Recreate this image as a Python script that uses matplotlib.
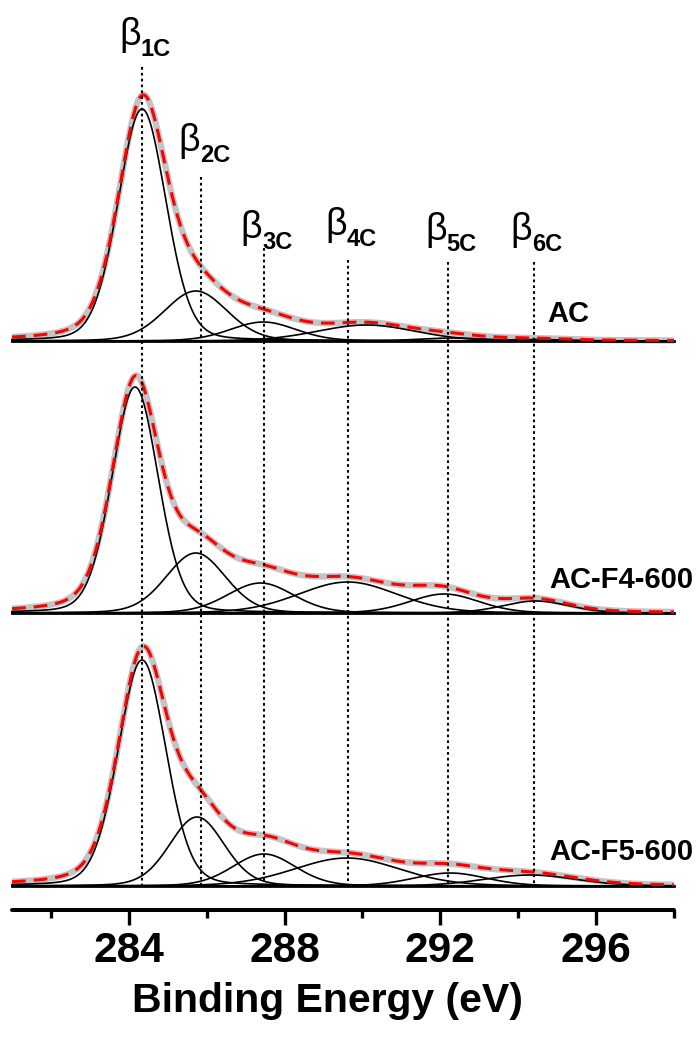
import numpy as np
import matplotlib
matplotlib.use("Agg")
import matplotlib.pyplot as plt
from matplotlib import font_manager as fm
from matplotlib.transforms import offset_copy

# ---------------- data ----------------
energy_range = (281.0, 298.0)
major_ticks = [284, 288, 292, 296]
minor_ticks = [282, 286, 290, 294, 298]
x_label = "Binding Energy (eV)"

samples = ["AC", "AC-F4-600", "AC-F5-600"]

peak_subscripts = ["1C", "2C", "3C", "4C", "5C", "6C"]
peak_markers = [284.34, 285.86, 287.47, 289.64, 292.20, 294.40]

# fitted components (centre eV, height a.u., FWHM eV)
centers_AC = [284.34, 285.72, 287.45, 290.10, 292.30, 294.40]
heights_AC = [232, 50, 19, 16, 3, 1.5]
fwhm_AC = [1.45, 1.90, 2.00, 3.00, 2.00, 2.00]

centers_F4 = [284.16, 285.72, 287.38, 289.62, 292.10, 294.45]
heights_F4 = [226, 60, 30, 31, 19, 12]
fwhm_F4 = [1.40, 1.80, 2.00, 3.00, 2.10, 2.00]

centers_F5 = [284.34, 285.75, 287.47, 289.60, 292.25, 294.30]
heights_F5 = [226, 69, 32, 28, 13, 11]
fwhm_F5 = [1.45, 1.65, 1.90, 3.20, 2.20, 2.80]

components = [
    (centers_AC, heights_AC, fwhm_AC),
    (centers_F4, heights_F4, fwhm_F4),
    (centers_F5, heights_F5, fwhm_F5),
]

lorentz_fraction_components = 0.15   # Gaussian-Lorentzian mix of the drawn peaks
lorentz_fraction_spectrum = 0.30     # broader wings of the measured / fitted envelope

# ---------------- layout (pixels) ----------------
W, H, DPI = 699, 1041, 100
ax_left_px, ax_right_px = 12, 674
ax_bottom_px = 910
baseline_px = [341, 613, 886]
label_beta_top_px = [17, 123, 210, 207, 212, 212]
dotted_top_px = [67, 177, 248, 260, 262, 262]
sample_label_base_px = [322, 588, 860]
sample_label_x_px = [547, 549, 549]


def available(name):
    return any(f.name == name for f in fm.fontManager.ttflist)


FONT = "Liberation Sans" if available("Liberation Sans") else "DejaVu Sans"
plt.rcParams["font.family"] = [FONT, "DejaVu Sans"]

fig = plt.figure(figsize=(W / DPI, H / DPI), dpi=DPI)
ax = fig.add_axes([ax_left_px / W, (H - ax_bottom_px) / H,
                   (ax_right_px - ax_left_px) / W, ax_bottom_px / H])
ax.set_xlim(*energy_range)
ax.set_ylim(0, ax_bottom_px)


def ydata(py):
    return ax_bottom_px - py


def px_to_ev(px):
    return energy_range[0] + (px - ax_left_px) * (energy_range[1] - energy_range[0]) / (ax_right_px - ax_left_px)


x = np.linspace(energy_range[0], energy_range[1], 1500)


def pseudo_voigt(xx, c, h, w, eta):
    u = (xx - c) / w
    g = np.exp(-4 * np.log(2) * u ** 2)
    lo = 1.0 / (1.0 + 4 * u ** 2)
    return h * ((1 - eta) * g + eta * lo)


for (cs, hs, ws), bpx in zip(components, baseline_px):
    b = ydata(bpx)
    comps = [pseudo_voigt(x, c, h, w, lorentz_fraction_components) for c, h, w in zip(cs, hs, ws)]
    env = np.sum([pseudo_voigt(x, c, h, w, lorentz_fraction_spectrum) for c, h, w in zip(cs, hs, ws)], axis=0)
    ax.plot(x, b + env, color="#c4c4c4", lw=4.6, solid_capstyle="butt", zorder=2, clip_on=False)
    for cy in comps:
        ax.plot(x, b + cy, color="black", lw=1.2, zorder=3, clip_on=False)
    ax.plot(energy_range, [b, b], color="black", lw=2.0, zorder=3, clip_on=False)
    ax.plot(x, b + env, color="#ff0000", lw=2.2, ls=(0, (4.5, 2.6)), zorder=4, clip_on=False)

# dotted marker lines and beta labels
for ev, sub, btop, dtop in zip(peak_markers, peak_subscripts, label_beta_top_px, dotted_top_px):
    ax.plot([ev, ev], [ydata(dtop), ydata(baseline_px[-1])], color="black", lw=1.5,
            ls=(0, (1.3, 1.5)), zorder=5)
    beta_base = btop + 28
    sub_base = beta_base + 11
    tb = offset_copy(ax.transData, fig=fig, x=-1.5 * 72 / DPI, y=0, units="points")
    ax.text(ev, ydata(beta_base), "β", transform=tb, ha="right", va="baseline",
            fontsize=27, fontweight="normal")
    ax.text(ev, ydata(sub_base), sub, transform=tb, ha="left", va="baseline",
            fontsize=17, fontweight="bold")

for name, bx, by in zip(samples, sample_label_x_px, sample_label_base_px):
    ax.text(px_to_ev(bx), ydata(by), name, ha="left", va="baseline",
            fontsize=21, fontweight="bold")

# axis styling
for s in ["left", "right", "top"]:
    ax.spines[s].set_visible(False)
ax.spines["bottom"].set_linewidth(2.9)
ax.spines["bottom"].set_capstyle("round")
ax.set_yticks([])
ax.set_xticks(major_ticks)
ax.set_xticks(minor_ticks, minor=True)
ax.set_xticklabels([str(t) for t in major_ticks])
ax.tick_params(axis="x", which="major", length=11, width=2.4, pad=4, labelsize=30.5)
ax.tick_params(axis="x", which="minor", length=6, width=2.4)
for lbl in ax.get_xticklabels():
    lbl.set_fontweight("bold")
ax.set_xlabel(x_label, fontsize=29.5, fontweight="bold")
ax.xaxis.set_label_coords((327 - ax_left_px) / (ax_right_px - ax_left_px), -(982 - ax_bottom_px) / ax_bottom_px)
ax.patch.set_visible(False)

fig.savefig("out.png", dpi=DPI)
